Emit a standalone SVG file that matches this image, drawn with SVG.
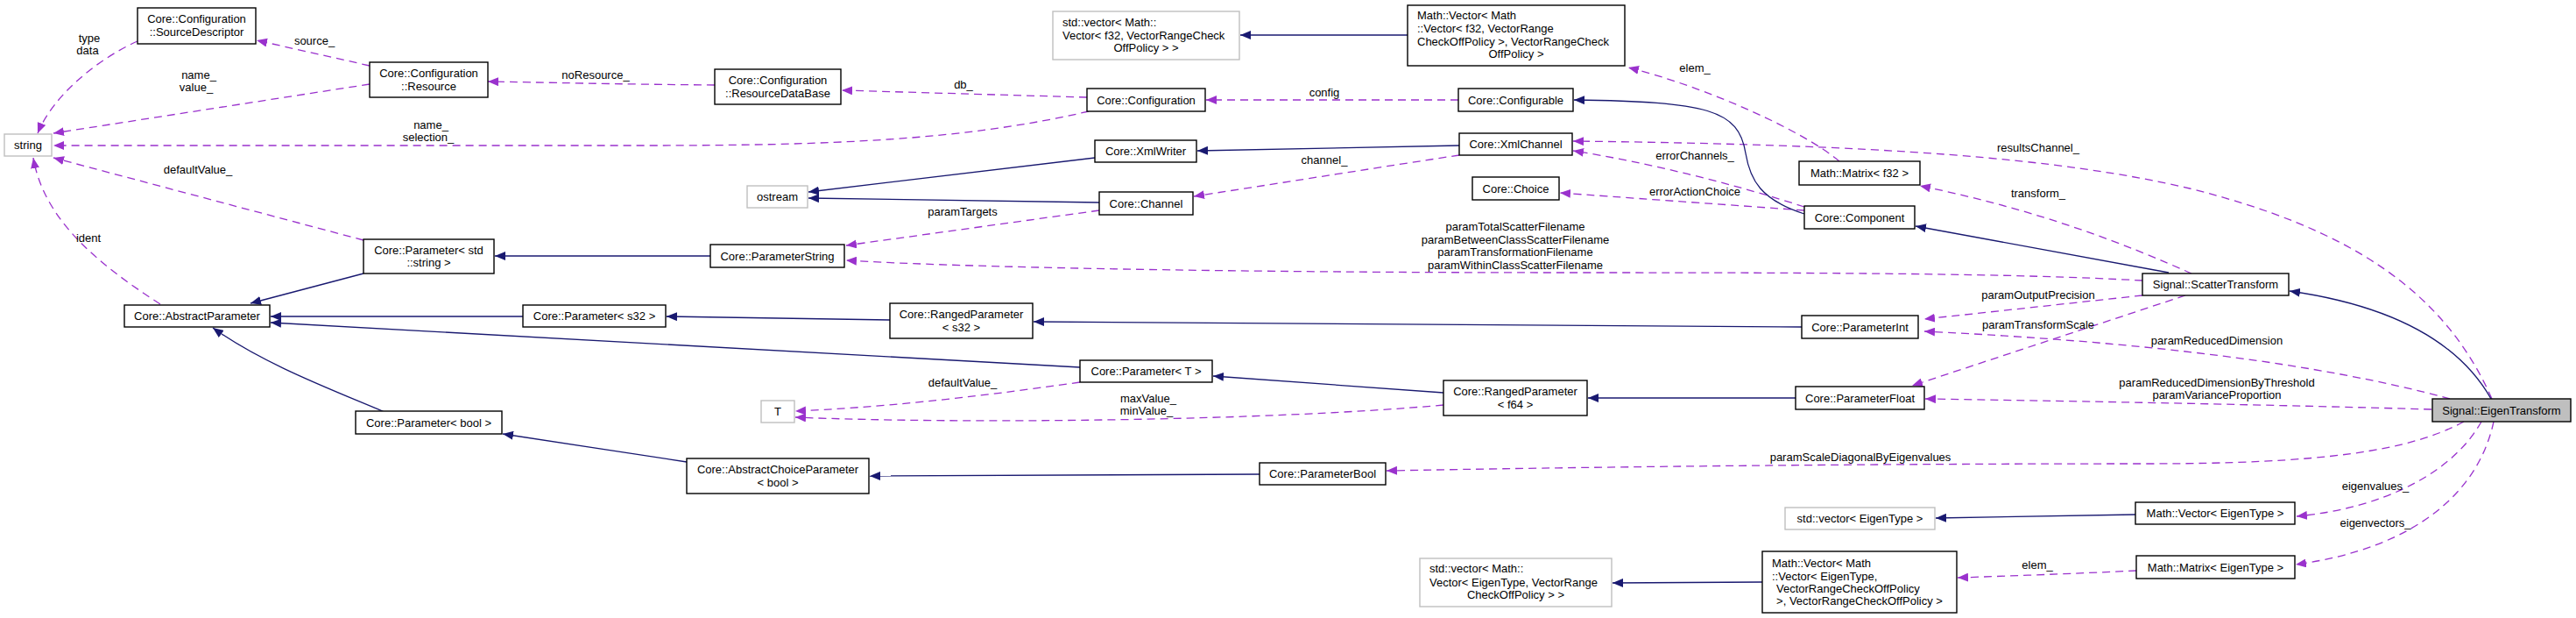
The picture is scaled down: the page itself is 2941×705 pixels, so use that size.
<svg xmlns="http://www.w3.org/2000/svg" width="2941" height="705" viewBox="0 0 2941 705">
<style>
text{font-family:"Liberation Sans",Arial,sans-serif;font-size:13px;fill:#000}
.n rect{fill:#fff;stroke:#000;stroke-width:1.4}
.g rect{fill:#fff;stroke:#bfbfbf;stroke-width:1.4}
.c{text-anchor:middle}
.u{fill:none;stroke:#9a32cd;stroke-width:1.3;stroke-dasharray:9,6;marker-end:url(#ap)}
.i{fill:none;stroke:#191970;stroke-width:1.3;marker-end:url(#ab)}
.lbl text{text-anchor:middle}
</style>
<defs>
<marker id="ap" viewBox="0 0 12 10" refX="12" refY="5" markerWidth="12" markerHeight="10" markerUnits="userSpaceOnUse" orient="auto"><path d="M0,0 L12,5 L0,10 z" fill="#9a32cd"/></marker>
<marker id="ab" viewBox="0 0 12 10" refX="12" refY="5" markerWidth="12" markerHeight="10" markerUnits="userSpaceOnUse" orient="auto"><path d="M0,0 L12,5 L0,10 z" fill="#191970"/></marker>
</defs>
<rect width="2941" height="705" fill="#fff"/>
<g id="edges">
<path class="u" d="M157,47 C110,68 60,110 43,152"/>
<path class="u" d="M422,75 L293,46"/>
<path class="u" d="M422,96 L61,152"/>
<path class="u" d="M816,97 C700,96 620,94 557,93"/>
<path class="u" d="M1243,127 C1100,160 950,166 735,166 L61,166"/>
<path class="u" d="M1241,111 L961,103"/>
<path class="u" d="M1665,114 L1377,114"/>
<path class="u" d="M415,274 L61,180"/>
<path class="u" d="M183,347 C110,300 50,250 38,180"/>
<path class="u" d="M1666,177 C1580,190 1480,206 1363,224"/>
<path class="u" d="M1255,240 L966,280"/>
<path class="u" d="M2446,320 C2300,312 2100,311 1800,311 C1400,311 1100,305 966,297"/>
<path class="u" d="M2446,337 L2197,364"/>
<path class="u" d="M2797,455 C2650,415 2450,390 2197,378"/>
<path class="u" d="M2495,337 L2183,440"/>
<path class="u" d="M2776,467 C2600,462 2400,458 2198,455"/>
<path class="u" d="M2813,481 C2750,515 2650,529 2450,529 C2100,529 1800,533 1583,537"/>
<path class="u" d="M2833,481 C2800,540 2720,580 2622,589"/>
<path class="u" d="M2847,481 C2830,560 2760,625 2621,644"/>
<path class="u" d="M2439,651 C2400,653 2300,657 2235,659"/>
<path class="u" d="M2845,455 C2790,330 2680,260 2500,215 C2350,180 2150,165 1796,161"/>
<path class="u" d="M2060,236 C1980,210 1880,185 1796,172"/>
<path class="u" d="M2060,240 C1950,232 1850,225 1781,220"/>
<path class="u" d="M2502,312 C2430,280 2330,240 2192,212"/>
<path class="u" d="M2100,184 C2060,150 1950,100 1859,77"/>
<path class="u" d="M1233,436 C1100,455 1000,465 908,469"/>
<path class="u" d="M1648,462 C1450,480 1100,484 908,476"/>
<path class="i" d="M1607,40 L1416,40"/>
<path class="i" d="M2060,244 C2010,228 1998,205 1993,175 C1985,125 1950,116 1797,114"/>
<path class="i" d="M1666,166 L1367,172"/>
<path class="i" d="M1250,180 L923,219"/>
<path class="i" d="M1255,231 L923,226"/>
<path class="i" d="M2476,311 L2187,258"/>
<path class="i" d="M2844,455 C2810,395 2740,350 2614,332"/>
<path class="i" d="M415,312 L286,346"/>
<path class="i" d="M811,292 L565,292"/>
<path class="i" d="M597,361 L309,361"/>
<path class="i" d="M1233,419 L309,368"/>
<path class="i" d="M439,470 C380,445 300,415 243,374"/>
<path class="i" d="M1016,365 L761,361"/>
<path class="i" d="M2057,373 L1180,367"/>
<path class="i" d="M1648,448 L1385,429"/>
<path class="i" d="M2050,454 L1813,454"/>
<path class="i" d="M784,527 L574,495"/>
<path class="i" d="M1438,541 L993,543"/>
<path class="i" d="M2438,587 L2210,591"/>
<path class="i" d="M2012,664 L1841,665"/>
<g class="lbl">
<text x="102" y="48">type</text>
<text x="100" y="62">data</text>
<text x="359" y="51">source_</text>
<text x="227" y="90">name_</text>
<text x="224" y="104">value_</text>
<text x="680" y="90">noResource_</text>
<text x="492" y="147">name_</text>
<text x="489" y="161">selection_</text>
<text x="226" y="198">defaultValue_</text>
<text x="1100" y="101">db_</text>
<text x="1512" y="110">config</text>
<text x="1512" y="187">channel_</text>
<text x="1935" y="82">elem_</text>
<text x="1935" y="182">errorChannels_</text>
<text x="1935" y="223">errorActionChoice</text>
<text x="2327" y="173">resultsChannel_</text>
<text x="2327" y="225">transform_</text>
<text x="101" y="276">ident</text>
<text x="1099" y="246">paramTargets</text>
<text x="1099" y="441">defaultValue_</text>
<text x="1311" y="459">maxValue_</text>
<text x="1309" y="473">minValue_</text>
<text x="1730" y="263">paramTotalScatterFilename</text>
<text x="1730" y="278">paramBetweenClassScatterFilename</text>
<text x="1730" y="292">paramTransformationFilename</text>
<text x="1730" y="307">paramWithinClassScatterFilename</text>
<text x="2327" y="341">paramOutputPrecision</text>
<text x="2327" y="375">paramTransformScale</text>
<text x="2531" y="393">paramReducedDimension</text>
<text x="2531" y="441">paramReducedDimensionByThreshold</text>
<text x="2531" y="455">paramVarianceProportion</text>
<text x="2124" y="526">paramScaleDiagonalByEigenvalues</text>
<text x="2712" y="559">eigenvalues_</text>
<text x="2712" y="601">eigenvectors_</text>
<text x="2326" y="649">elem_</text>
</g>
</g>
<g id="string" class="g"><rect x="5" y="153" width="54" height="25"/><text class="c" x="32" y="170">string</text></g>
<g id="sourcedescriptor" class="n"><rect x="157" y="9" width="135" height="41"/><text class="c" x="224.5" y="26">Core::Configuration</text><text class="c" x="224.5" y="41">::SourceDescriptor</text></g>
<g id="resource" class="n"><rect x="422" y="71" width="135" height="40"/><text class="c" x="489.5" y="88">Core::Configuration</text><text class="c" x="489.5" y="103">::Resource</text></g>
<g id="resourcedatabase" class="n"><rect x="816" y="79" width="144" height="40"/><text class="c" x="888" y="96">Core::Configuration</text><text class="c" x="888" y="111">::ResourceDataBase</text></g>
<g id="stdvector_f32" class="g"><rect x="1202" y="13" width="213" height="55"/><text x="1213" y="29.5">std::vector&lt; Math::</text><text x="1213" y="44.5">Vector&lt; f32, VectorRangeCheck</text><text class="c" x="1308.5" y="58.5">OffPolicy &gt; &gt;</text></g>
<g id="mathvector_f32" class="n"><rect x="1607" y="6" width="248" height="69"/><text x="1618" y="22">Math::Vector&lt; Math</text><text x="1618" y="37">::Vector&lt; f32, VectorRange</text><text x="1618" y="52">CheckOffPolicy &gt;, VectorRangeCheck</text><text class="c" x="1731" y="66">OffPolicy &gt;</text></g>
<g id="configuration" class="n"><rect x="1241" y="101" width="135" height="26"/><text class="c" x="1308.5" y="118.5">Core::Configuration</text></g>
<g id="configurable" class="n"><rect x="1665" y="101" width="131" height="26"/><text class="c" x="1730.5" y="118.5">Core::Configurable</text></g>
<g id="xmlwriter" class="n"><rect x="1250" y="160" width="116" height="25"/><text class="c" x="1308" y="177">Core::XmlWriter</text></g>
<g id="xmlchannel" class="n"><rect x="1666" y="152" width="129" height="25"/><text class="c" x="1730.5" y="169">Core::XmlChannel</text></g>
<g id="ostream" class="g"><rect x="853" y="212" width="69" height="25"/><text class="c" x="887.5" y="229">ostream</text></g>
<g id="channel" class="n"><rect x="1255" y="219" width="107" height="26"/><text class="c" x="1308.5" y="236.5">Core::Channel</text></g>
<g id="choice" class="n"><rect x="1681" y="202" width="99" height="26"/><text class="c" x="1730.5" y="219.5">Core::Choice</text></g>
<g id="matrix_f32" class="n"><rect x="2054" y="184" width="138" height="27"/><text class="c" x="2123" y="202">Math::Matrix&lt; f32 &gt;</text></g>
<g id="component" class="n"><rect x="2060" y="235" width="126" height="26"/><text class="c" x="2123" y="252.5">Core::Component</text></g>
<g id="parameter_string" class="n"><rect x="415" y="273" width="149" height="39"/><text class="c" x="489.5" y="289.5">Core::Parameter&lt; std</text><text class="c" x="489.5" y="303.5">::string &gt;</text></g>
<g id="parameterstring" class="n"><rect x="811" y="279" width="153" height="26"/><text class="c" x="887.5" y="296.5">Core::ParameterString</text></g>
<g id="abstractparameter" class="n"><rect x="142" y="348" width="166" height="25"/><text class="c" x="225" y="365">Core::AbstractParameter</text></g>
<g id="parameter_s32" class="n"><rect x="597" y="348" width="163" height="25"/><text class="c" x="678.5" y="365">Core::Parameter&lt; s32 &gt;</text></g>
<g id="rangedparameter_s32" class="n"><rect x="1016" y="346" width="163" height="40"/><text class="c" x="1097.5" y="362.5">Core::RangedParameter</text><text class="c" x="1097.5" y="377.5">&lt; s32 &gt;</text></g>
<g id="parameterint" class="n"><rect x="2057" y="360" width="133" height="26"/><text class="c" x="2123.5" y="377.5">Core::ParameterInt</text></g>
<g id="scattertransform" class="n"><rect x="2446" y="312" width="167" height="25"/><text class="c" x="2529.5" y="329">Signal::ScatterTransform</text></g>
<g id="parameter_t" class="n"><rect x="1233" y="411" width="151" height="25"/><text class="c" x="1308.5" y="428">Core::Parameter&lt; T &gt;</text></g>
<g id="t" class="g"><rect x="869" y="457" width="38" height="25"/><text class="c" x="888" y="474">T</text></g>
<g id="rangedparameter_f64" class="n"><rect x="1648" y="434" width="164" height="40"/><text class="c" x="1730" y="450.5">Core::RangedParameter</text><text class="c" x="1730" y="465.5">&lt; f64 &gt;</text></g>
<g id="parameterfloat" class="n"><rect x="2050" y="441" width="147" height="26"/><text class="c" x="2123.5" y="458.5">Core::ParameterFloat</text></g>
<g id="eigentransform" class="n"><rect x="2777" y="455" width="158" height="26" style="fill:#bfbfbf"/><text class="c" x="2856" y="472.5">Signal::EigenTransform</text></g>
<g id="parameter_bool" class="n"><rect x="406" y="469" width="167" height="26"/><text class="c" x="489.5" y="486.5">Core::Parameter&lt; bool &gt;</text></g>
<g id="abstractchoiceparameter_bool" class="n"><rect x="784" y="523" width="208" height="40"/><text class="c" x="888" y="539.5">Core::AbstractChoiceParameter</text><text class="c" x="888" y="554.5">&lt; bool &gt;</text></g>
<g id="parameterbool" class="n"><rect x="1438" y="528" width="144" height="25"/><text class="c" x="1510" y="545">Core::ParameterBool</text></g>
<g id="stdvector_eigentype" class="g"><rect x="2038" y="579" width="171" height="25"/><text class="c" x="2123.5" y="596">std::vector&lt; EigenType &gt;</text></g>
<g id="stdvector_mathvector_eigentype" class="g"><rect x="1621" y="637" width="219" height="55"/><text x="1632" y="652.5">std::vector&lt; Math::</text><text x="1632" y="668.5">Vector&lt; EigenType, VectorRange</text><text class="c" x="1730.5" y="682.5">CheckOffPolicy &gt; &gt;</text></g>
<g id="mathvector_mathvector_eigentype" class="n"><rect x="2012" y="629" width="222" height="70"/><text x="2023" y="646.5">Math::Vector&lt; Math</text><text x="2023" y="661.5">::Vector&lt; EigenType,</text><text x="2028" y="675.5">VectorRangeCheckOffPolicy</text><text class="c" x="2123" y="689.5">&gt;, VectorRangeCheckOffPolicy &gt;</text></g>
<g id="mathvector_eigentype" class="n"><rect x="2438" y="573" width="182" height="25"/><text class="c" x="2529" y="590">Math::Vector&lt; EigenType &gt;</text></g>
<g id="matrix_eigentype" class="n"><rect x="2439" y="634" width="181" height="26"/><text class="c" x="2529.5" y="651.5">Math::Matrix&lt; EigenType &gt;</text></g>
</svg>
